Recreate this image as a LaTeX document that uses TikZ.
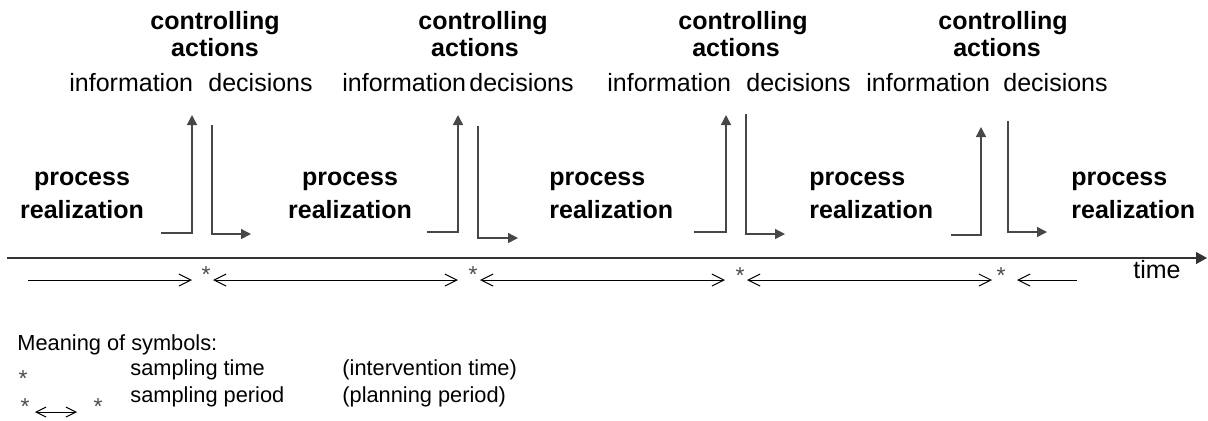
\documentclass[tikz,border=0pt]{standalone}
\usepackage{fontspec}
\setmainfont{Liberation Sans}
\usetikzlibrary{arrows.meta}
\begin{document}
\begin{tikzpicture}[x=0.5pt,y=-0.5pt,
  bold/.style={font=\fontsize{12.5pt}{15pt}\selectfont\bfseries, inner sep=0pt},
  reg/.style={font=\fontsize{12.5pt}{15pt}\selectfont, inner sep=0pt},
  leg/.style={font=\fontsize{10.9pt}{13pt}\selectfont, inner sep=0pt, anchor=base west},
  ast/.style={font=\fontsize{11.5pt}{13pt}\selectfont, inner sep=0pt, anchor=base, text=black!70},
  flow/.style={draw=black!72, line width=0.7pt, -{Triangle[length=5pt,width=5pt]}},
  timeax/.style={draw=black!80, line width=0.6pt, -{Triangle[length=5.5pt,width=6pt]}},
  barb/.tip={Straight Barb[length=6pt,width=6pt]},
  smallbarb/.tip={Straight Barb[length=5pt,width=5pt]},
  period/.style={draw=black, line width=0.5pt},
]
\useasboundingbox (0,0) rectangle (1208,420);

% --- controlling actions labels
\node[bold, anchor=base] (c1) at (215,29) {controlling};
\node[bold, anchor=base] (a1) at (215,56) {actions};
\node[reg, anchor=base west] (i1) at (69,91) {information};
\node[reg, anchor=base west] (d1) at (208,91) {decisions};

\node[bold, anchor=base] (c2) at (483,29) {controlling};
\node[bold, anchor=base] (a2) at (475,56) {actions};
\node[reg, anchor=base west] (i2) at (342,91) {information};
\node[reg, anchor=base west] (d2) at (469,91) {decisions};

\node[bold, anchor=base] (c3) at (743,29) {controlling};
\node[bold, anchor=base] (a3) at (736,56) {actions};
\node[reg, anchor=base west] (i3) at (607,91) {information};
\node[reg, anchor=base west] (d3) at (746,91) {decisions};

\node[bold, anchor=base] (c4) at (1003,29) {controlling};
\node[bold, anchor=base] (a4) at (997,56) {actions};
\node[reg, anchor=base west] (i4) at (866,91) {information};
\node[reg, anchor=base west] (d4) at (1003,91) {decisions};

% --- process realization labels
\node[bold, anchor=base] (p1) at (82,185) {process};
\node[bold, anchor=base] (r1) at (82,218) {realization};
\node[bold, anchor=base] (p2) at (350,185) {process};
\node[bold, anchor=base] (r2) at (350,218) {realization};
\node[bold, anchor=base west] (p3) at (549,185) {process};
\node[bold, anchor=base west] (r3) at (549,218) {realization};
\node[bold, anchor=base west] (p4) at (809,185) {process};
\node[bold, anchor=base west] (r4) at (809,218) {realization};
\node[bold, anchor=base west] (p5) at (1071,185) {process};
\node[bold, anchor=base west] (r5) at (1071,218) {realization};

% --- information / decision arrows
\coordinate (u1s) at (161,233); \coordinate (u1e) at (192,115);
\coordinate (v1s) at (212,125); \coordinate (v1e) at (251,234);
\coordinate (u2s) at (427,232); \coordinate (u2e) at (458,115);
\coordinate (v2s) at (478,126); \coordinate (v2e) at (518,238);
\coordinate (u3s) at (694,232); \coordinate (u3e) at (726,115);
\coordinate (v3s) at (746,114); \coordinate (v3e) at (785,234);
\coordinate (u4s) at (951,235); \coordinate (u4e) at (981,127);
\coordinate (v4s) at (1008,121); \coordinate (v4e) at (1047,232);
\draw[flow] (u1s) -| (u1e);
\draw[flow] (v1s) |- (v1e);
\draw[flow] (u2s) -| (u2e);
\draw[flow] (v2s) |- (v2e);
\draw[flow] (u3s) -| (u3e);
\draw[flow] (v3s) |- (v3e);
\draw[flow] (u4s) -| (u4e);
\draw[flow] (v4s) |- (v4e);

% --- time axis
\coordinate (t0) at (7,258); \coordinate (t1) at (1207,258);
\draw[timeax] (t0) -- (t1);
\node[reg, anchor=base west] (time) at (1133,278) {time};

% --- sampling periods
\coordinate (s0) at (28,280);
\coordinate (s1a) at (192,280); \coordinate (s1b) at (213,280);
\coordinate (s2a) at (458,280); \coordinate (s2b) at (480,280);
\coordinate (s3a) at (725,280); \coordinate (s3b) at (747,280);
\coordinate (s4a) at (992,280); \coordinate (s4b) at (1017,280);
\coordinate (s5) at (1077,280);
\draw[period, -barb] (s0) -- (s1a);
\draw[period, barb-barb] (s1b) -- (s2a);
\draw[period, barb-barb] (s2b) -- (s3a);
\draw[period, barb-barb] (s3b) -- (s4a);
\draw[period, barb-] (s4b) -- (s5);
\node[ast] (k1) at (206,282) {*};
\node[ast] (k2) at (473,282) {*};
\node[ast] (k3) at (740,283) {*};
\node[ast] (k4) at (1001,283) {*};

% --- legend
\node[leg] (m) at (17,350) {Meaning of symbols:};
\node[ast] (lk1) at (23,386) {*};
\node[leg] (l1) at (130,375) {sampling time};
\node[leg] (l1b) at (342,375) {(intervention time)};
\node[ast] (lk2) at (25,414) {*};
\coordinate (la) at (35,412); \coordinate (lb) at (77,412);
\draw[period, smallbarb-smallbarb] (la) -- (lb);
\node[ast] (lk3) at (98,414) {*};
\node[leg] (l2) at (130,402) {sampling period};
\node[leg] (l2b) at (342,402) {(planning period)};
\end{tikzpicture}
\end{document}
